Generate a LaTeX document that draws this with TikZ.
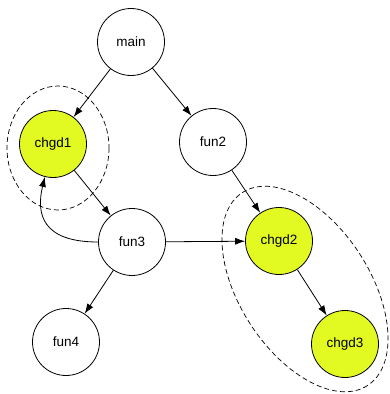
\documentclass[tikz,border=0pt]{standalone}
\usepackage{fontspec}
\setmainfont{Liberation Sans}
\usetikzlibrary{arrows.meta,positioning}
\definecolor{lime}{HTML}{E2FA22}
\tikzset{fnode/.style={draw,circle,minimum size=67pt,inner sep=0pt,font=\fontsize{13.5}{15}\selectfont,line width=.8pt},chgdnode/.style={fnode,fill=lime},callarrow/.style={-{Latex[length=10pt,width=7pt]},line width=.8pt},groupline/.style={draw,line width=.7pt,dash pattern=on 5pt off 3pt}}

\begin{document}
\begin{tikzpicture}[x=1pt,y=-1pt]
\useasboundingbox (0,0) rectangle (389,394);
\draw[groupline] (58,148) ellipse [x radius=51, y radius=62];
\draw[groupline,rotate around={-57:(305,289)}] (305,289) ellipse [x radius=115, y radius=65];
\node[fnode] (main) at (131,42) {main};
\node[chgdnode] (chgd1) at (53,144) {chgd1};
\node[fnode] (fun2) at (213,142) {fun2};
\node[fnode] (fun3) at (132,242) {fun3};
\node[chgdnode] (chgd2) at (279,241) {chgd2};
\node[chgdnode] (chgd3) at (345,344) {chgd3};
\node[fnode] (fun4) at (66,342) {fun4};
\draw[callarrow] (main) -- (chgd1);
\draw[callarrow] (main) -- (fun2);
\draw[callarrow] (chgd1) -- (fun3);
\draw[callarrow] (fun2) -- (chgd2);
\draw[callarrow] (fun3) -- (chgd2);
\draw[callarrow] (fun3) -- (fun4);
\draw[callarrow] (chgd2) -- (chgd3);
\draw[callarrow] (fun3.west) .. controls (42,242) and (36,214) .. (chgd1.256);
\end{tikzpicture}
\end{document}
